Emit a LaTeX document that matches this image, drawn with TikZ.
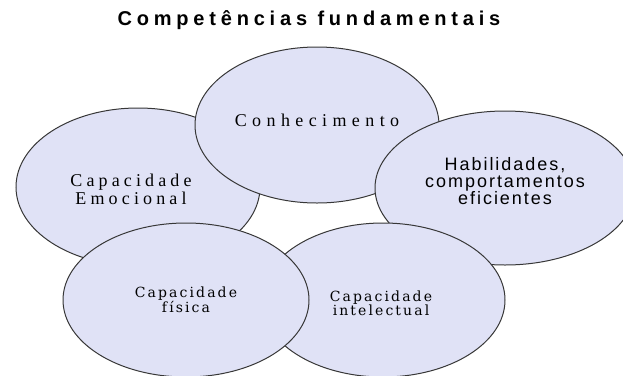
\documentclass[tikz,border=0pt]{standalone}
\usepackage{fontspec}
\usetikzlibrary{shapes.geometric}
\newfontfamily\titlefont{Liberation Sans}[LetterSpace=24]
\newfontfamily\conhfont{Liberation Serif}[LetterSpace=30]
\newfontfamily\emofont{Liberation Serif}[LetterSpace=23]
\newfontfamily\habfont{Liberation Sans}[LetterSpace=11]
\newfontfamily\smallserif{DejaVu Serif}[LetterSpace=15]
\definecolor{ellfill}{RGB}{224,226,246}
\definecolor{ellline}{RGB}{55,55,55}
\begin{document}
\begin{tikzpicture}[x=1pt,y=-1pt,
  bub/.style={ellipse, draw=ellline, line width=1pt, fill=ellfill, inner sep=0pt},
  lbl/.style={align=center, inner sep=0pt, text=black}]
\useasboundingbox (0,0) rectangle (623,375);
\clip (0,0) rectangle (623,375);
\node[lbl, font=\titlefont\bfseries\fontsize{20}{22}\selectfont] (title) at (309,20) {Competências fundamentais};
\node[bub, minimum width=244pt, minimum height=158pt] (emo) at (138,187) {};
\node[bub, minimum width=244pt, minimum height=156pt] (con) at (317,125) {};
\node[bub, minimum width=260pt, minimum height=154pt] (hab) at (505,188) {};
\node[bub, minimum width=244pt, minimum height=154pt] (int) at (383,300) {};
\node[bub, minimum width=246pt, minimum height=154pt] (fis) at (186,300) {};
\node[lbl, font=\conhfont\fontsize{18}{19}\selectfont] (tcon) at (317,120) {Conhecimento};
\node[lbl, font=\emofont\fontsize{18}{18}\selectfont] (temo) at (131,189) {Capacidade\\Emocional};
\node[lbl, font=\habfont\fontsize{18}{17}\selectfont] (thab) at (505,181) {Habilidades,\\comportamentos\\eficientes};
\node[lbl, font=\smallserif\fontsize{14}{14}\selectfont] (tfis) at (186,299.5) {Capacidade\\física};
\node[lbl, font=\smallserif\fontsize{14}{14}\selectfont] (tint) at (381,303.5) {Capacidade\\intelectual};
\end{tikzpicture}
\end{document}
